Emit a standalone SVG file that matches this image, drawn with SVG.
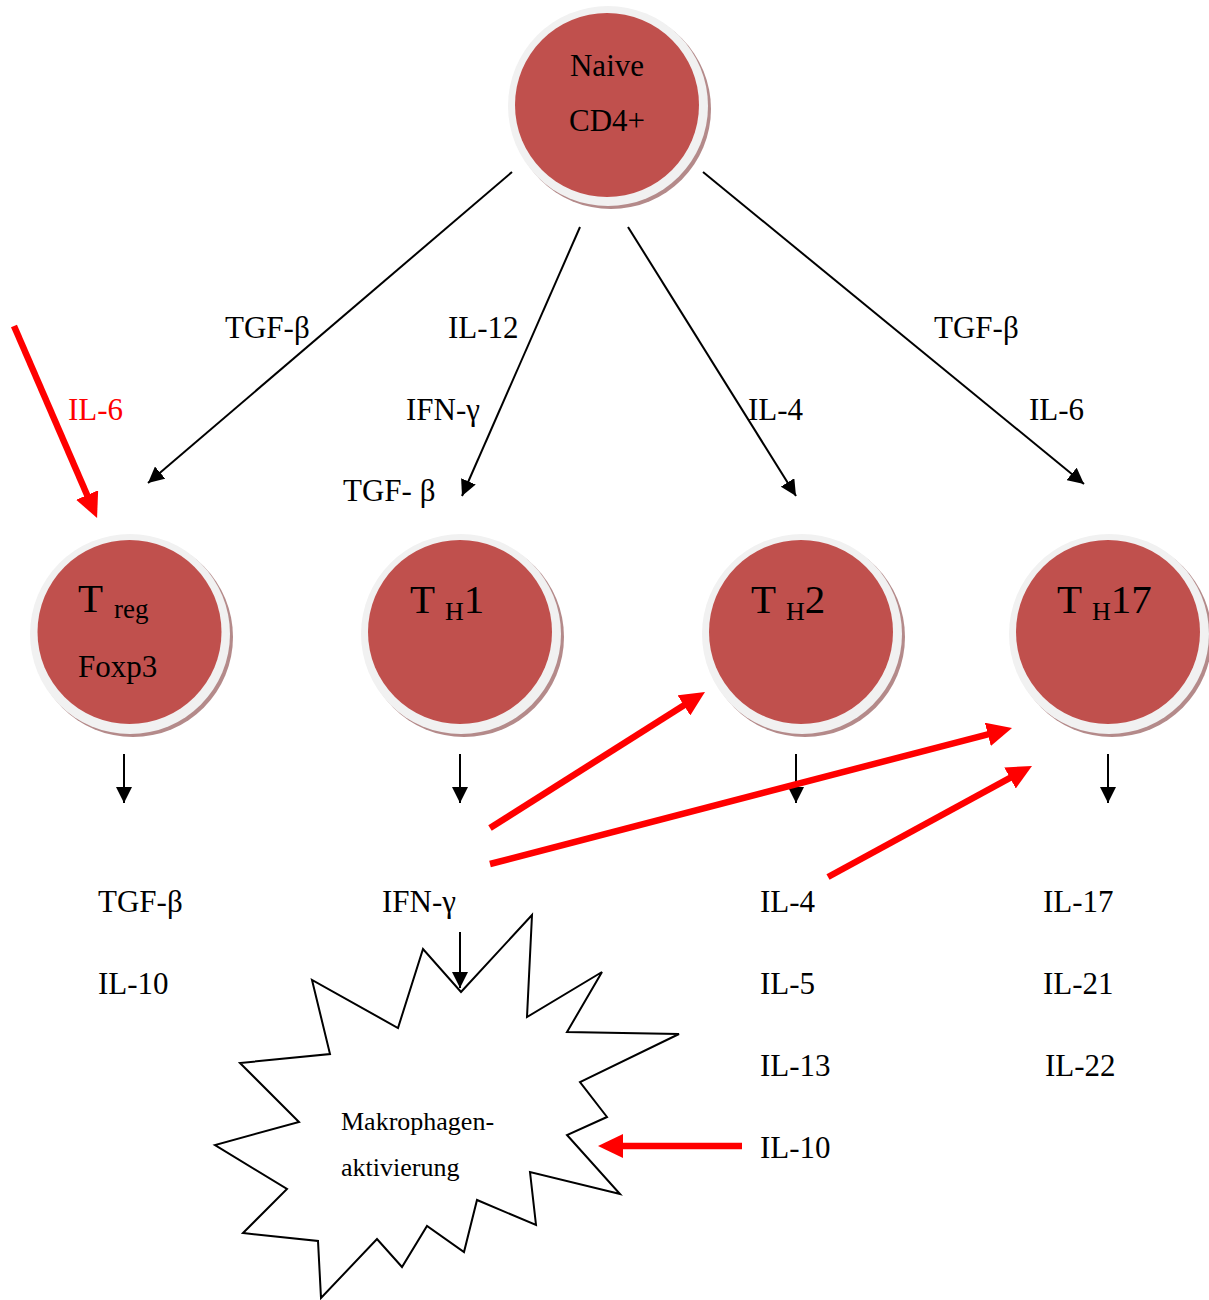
<svg xmlns="http://www.w3.org/2000/svg" width="1209" height="1300" viewBox="0 0 1209 1300">
<defs>
<style>
text{font-family:"Liberation Serif","Times New Roman",serif;font-size:31px;fill:#000}
.red{fill:#ff0000}
.big{font-size:41px}
.sub{font-size:26px}
.subr{font-size:27px}
.star{font-size:26px}
.shadow{fill:#b48a8a}
.ring{fill:#f1f1f1}
.cell{fill:#c0504d}
.blk{stroke:#000;stroke-width:2;fill:none;marker-end:url(#ah)}
.rd{stroke:#ff0000;stroke-width:6.5;fill:none;marker-end:url(#rh)}
</style>
<marker id="ah" markerUnits="userSpaceOnUse" markerWidth="16" markerHeight="16" refX="16" refY="8" orient="auto" viewBox="0 0 16 16">
<path d="M0,0 L16,8 L0,16 z" fill="#000"/>
</marker>
<marker id="rh" markerUnits="userSpaceOnUse" markerWidth="25" markerHeight="24" refX="10" refY="12" orient="auto" viewBox="0 0 25 24">
<path d="M0,0 L25,12 L0,24 z" fill="#ff0000"/>
</marker>
</defs>
<rect width="1209" height="1300" fill="#fff"/>

<g id="naive">
<circle class="shadow" cx="611" cy="109" r="100"/>
<circle class="ring" cx="608" cy="106" r="100"/>
<circle class="cell" cx="607" cy="105" r="92"/>
<text x="607" y="76" text-anchor="middle">Naive</text>
<text x="607" y="131" text-anchor="middle">CD4+</text>
</g>

<g id="treg">
<circle class="shadow" cx="133" cy="637" r="100"/>
<circle class="ring" cx="130" cy="634" r="100"/>
<circle class="cell" cx="129.5" cy="632" r="92"/>
<text x="78" y="612"><tspan class="big">T</tspan><tspan class="subr" dx="11" dy="6">reg</tspan></text>
<text x="78" y="677">Foxp3</text>
</g>

<g id="th1">
<circle class="shadow" cx="464" cy="637" r="100"/>
<circle class="ring" cx="461" cy="634" r="100"/>
<circle class="cell" cx="460" cy="632" r="92"/>
<text x="410" y="613"><tspan class="big">T</tspan><tspan class="sub" dx="10" dy="7">H</tspan><tspan class="big" dy="-7">1</tspan></text>
</g>

<g id="th2">
<circle class="shadow" cx="805" cy="637" r="100"/>
<circle class="ring" cx="802" cy="634" r="100"/>
<circle class="cell" cx="801" cy="632" r="92"/>
<text x="751" y="613"><tspan class="big">T</tspan><tspan class="sub" dx="10" dy="7">H</tspan><tspan class="big" dy="-7">2</tspan></text>
</g>

<g id="th17">
<circle class="shadow" cx="1112" cy="637" r="100"/>
<circle class="ring" cx="1109" cy="634" r="100"/>
<circle class="cell" cx="1108" cy="632" r="92"/>
<text x="1057" y="613"><tspan class="big">T</tspan><tspan class="sub" dx="10" dy="7">H</tspan><tspan class="big" dy="-7">17</tspan></text>
</g>

<g id="makrophagen">
<polygon points="461,992 532,915 527,1017 602,972 567,1032 679,1034 580,1082 607,1117 567,1135 620,1194 530,1172 536,1225 477,1200 464,1252 427,1226 402,1267 377,1239 321,1298 318,1241 243,1233 287,1189 215,1145 299,1122 240,1063 330,1054 312,980 398,1028 423,949" fill="#fff" stroke="#000" stroke-width="2" stroke-linejoin="miter"/>
<text class="star" x="341" y="1130">Makrophagen-</text>
<text class="star" x="341" y="1176">aktivierung</text>
</g>

<g id="connectors">
<line class="blk" x1="512" y1="172" x2="148" y2="483"/>
<line class="blk" x1="580" y1="227" x2="462" y2="496"/>
<line class="blk" x1="628" y1="227" x2="796" y2="496"/>
<line class="blk" x1="703" y1="172" x2="1084" y2="484"/>
<line class="blk" x1="124" y1="754" x2="124" y2="803"/>
<line class="blk" x1="460" y1="754" x2="460" y2="803"/>
<line class="blk" x1="796" y1="754" x2="796" y2="803"/>
<line class="blk" x1="1108" y1="754" x2="1108" y2="803"/>
<line class="blk" x1="460" y1="932" x2="460" y2="988"/>
<line class="rd" x1="14" y1="326" x2="91.1" y2="504.2"/>
<line class="rd" x1="490" y1="828" x2="692.3" y2="700.0"/>
<line class="rd" x1="490" y1="864" x2="997.5" y2="731.8"/>
<line class="rd" x1="828" y1="877" x2="1018.8" y2="773.2"/>
<line class="rd" x1="742" y1="1146" x2="613" y2="1146"/>
</g>

<g id="labels">
<text x="225" y="338">TGF-β</text>
<text x="448" y="338">IL-12</text>
<text class="red" x="68" y="420">IL-6</text>
<text x="406" y="420">IFN-γ</text>
<text x="343" y="501">TGF- β</text>
<text x="748" y="420">IL-4</text>
<text x="934" y="338">TGF-β</text>
<text x="1029" y="420">IL-6</text>
<text x="98" y="912">TGF-β</text>
<text x="98" y="994">IL-10</text>
<text x="382" y="912">IFN-γ</text>
<text x="760" y="912">IL-4</text>
<text x="760" y="994">IL-5</text>
<text x="760" y="1076">IL-13</text>
<text x="760" y="1158">IL-10</text>
<text x="1043" y="912">IL-17</text>
<text x="1043" y="994">IL-21</text>
<text x="1045" y="1076">IL-22</text>
</g>
</svg>
